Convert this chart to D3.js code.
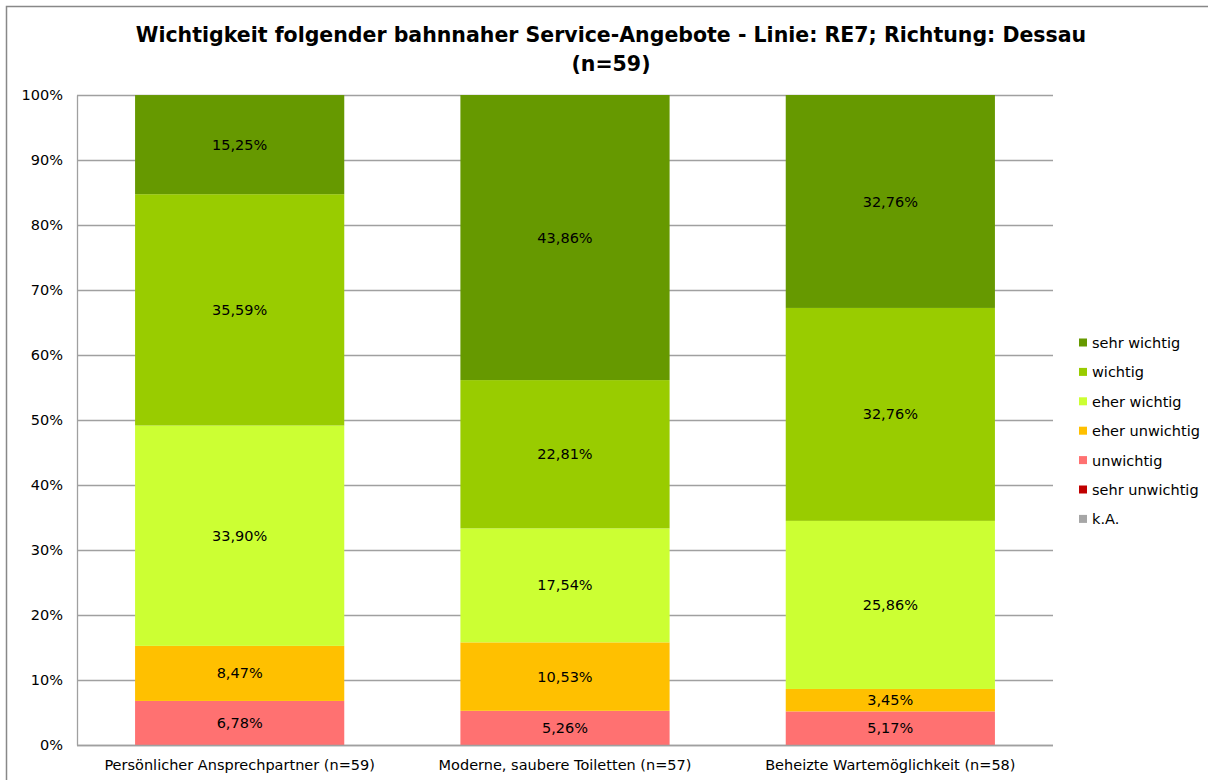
<!DOCTYPE html>
<html><head><meta charset="utf-8">
<script src="https://cdn.jsdelivr.net/npm/d3@7"></script>
<style>body{margin:0;background:#fff}svg{display:block}text{font-family:"DejaVu Sans",sans-serif}</style>
</head><body>
<svg id="c" width="1208" height="780"></svg>
<script>
const categories = ["Persönlicher Ansprechpartner (n=59)", "Moderne, saubere Toiletten (n=57)", "Beheizte Wartemöglichkeit (n=58)"];
const seriesNames = ["sehr wichtig", "wichtig", "eher wichtig", "eher unwichtig", "unwichtig", "sehr unwichtig", "k.A."];
const sehrWichtig = [15.25, 43.86, 32.76];
const wichtig = [35.59, 22.81, 32.76];
const eherWichtig = [33.90, 17.54, 25.86];
const eherUnwichtig = [8.47, 10.53, 3.45];
const unwichtig = [6.78, 5.26, 5.17];
const sehrUnwichtig = [0, 0, 0];
const kA = [0, 0, 0];
const colors = ["#669900", "#99cc00", "#ccff33", "#ffc000", "#ff7171", "#c00000", "#a6a6a6"];
const yTicks = [0,10,20,30,40,50,60,70,80,90,100];
const title1 = "Wichtigkeit folgender bahnnaher Service-Angebote - Linie: RE7; Richtung: Dessau";
const title2 = "(n=59)";

const seriesVals = [sehrWichtig, wichtig, eherWichtig, eherUnwichtig, unwichtig, sehrUnwichtig, kA];
const stackKeys = seriesNames.slice().reverse();
const table = categories.map((c, i) => {
  const o = {cat: c};
  seriesNames.forEach((s, j) => o[s] = seriesVals[j][i]);
  return o;
});
const stacked = d3.stack().keys(stackKeys)(table);
const colorOf = d3.scaleOrdinal().domain(seriesNames).range(colors);

const svg = d3.select("#c");
svg.append("rect").attr("x", 6.5).attr("y", 6.5).attr("width", 1215).attr("height", 800)
  .attr("fill", "none").attr("stroke", "#888").attr("stroke-width", 1.5);

const L = 77, R = 1053, T = 95, B = 745;
const x = d3.scaleBand().domain(categories).range([L, R]).paddingInner(0.357).paddingOuter(0.1785);
const y = d3.scaleLinear().domain([0, 100]).range([B, T]);

svg.append("g").selectAll("line").data(yTicks).join("line")
  .attr("x1", L).attr("x2", R).attr("y1", d => Math.round(y(d)) + 0.5).attr("y2", d => Math.round(y(d)) + 0.5)
  .attr("stroke", "#a0a0a0").attr("stroke-width", 1.3);

const yAxis = d3.axisLeft(y).tickValues(yTicks).tickFormat(d => d + "%").tickSize(0).tickPadding(14);
const gy = svg.append("g").attr("transform", `translate(${L},0)`).call(yAxis);
gy.select(".domain").attr("stroke", "#a0a0a0").attr("stroke-width", 1.3);
gy.selectAll("text").attr("font-size", 14.5).attr("fill", "#000").attr("font-family", "DejaVu Sans");

const layers = svg.append("g").selectAll("g").data(stacked).join("g").attr("fill", d => colorOf(d.key));
layers.selectAll("rect").data(d => d).join("rect")
  .attr("x", d => x(d.data.cat)).attr("width", x.bandwidth())
  .attr("y", d => y(d[1])).attr("height", d => y(d[0]) - y(d[1]));

const fmt = v => v.toFixed(2).replace(".", ",") + "%";
stacked.forEach(layer => {
  layer.forEach(d => {
    const v = d[1] - d[0];
    if (v <= 0) return;
    svg.append("text").attr("x", x(d.data.cat) + x.bandwidth() / 2).attr("y", (y(d[0]) + y(d[1])) / 2)
      .attr("dy", "0.35em").attr("text-anchor", "middle").attr("font-size", 14.5).attr("fill", "#000")
      .text(fmt(d.data[layer.key]));
  });
});

const xAxis = d3.axisBottom(x).tickSize(0).tickPadding(15);
const gx = svg.append("g").attr("transform", `translate(0,${B})`).call(xAxis);
gx.select(".domain").attr("stroke", "#a0a0a0").attr("stroke-width", 1.3).attr("d", `M${L},0.5H${R}`);
gx.selectAll("text").attr("font-size", 14.5).attr("fill", "#000").attr("font-family", "DejaVu Sans");

svg.append("text").attr("x", 611).attr("y", 42).attr("text-anchor", "middle").attr("font-weight", "bold")
  .attr("font-size", 20.5).text(title1);
svg.append("text").attr("x", 611).attr("y", 71).attr("text-anchor", "middle").attr("font-weight", "bold")
  .attr("font-size", 20.5).text(title2);

const lg = svg.append("g").selectAll("g").data(seriesNames).join("g")
  .attr("transform", (d, i) => `translate(1079, ${343 + i * 29.4})`);
lg.append("rect").attr("x", 0).attr("y", -4.5).attr("width", 8).attr("height", 8).attr("fill", d => colorOf(d));
lg.append("text").attr("x", 13).attr("dy", "0.35em").attr("font-size", 14.5).attr("fill", "#000").text(d => d);
</script>
</body></html>
